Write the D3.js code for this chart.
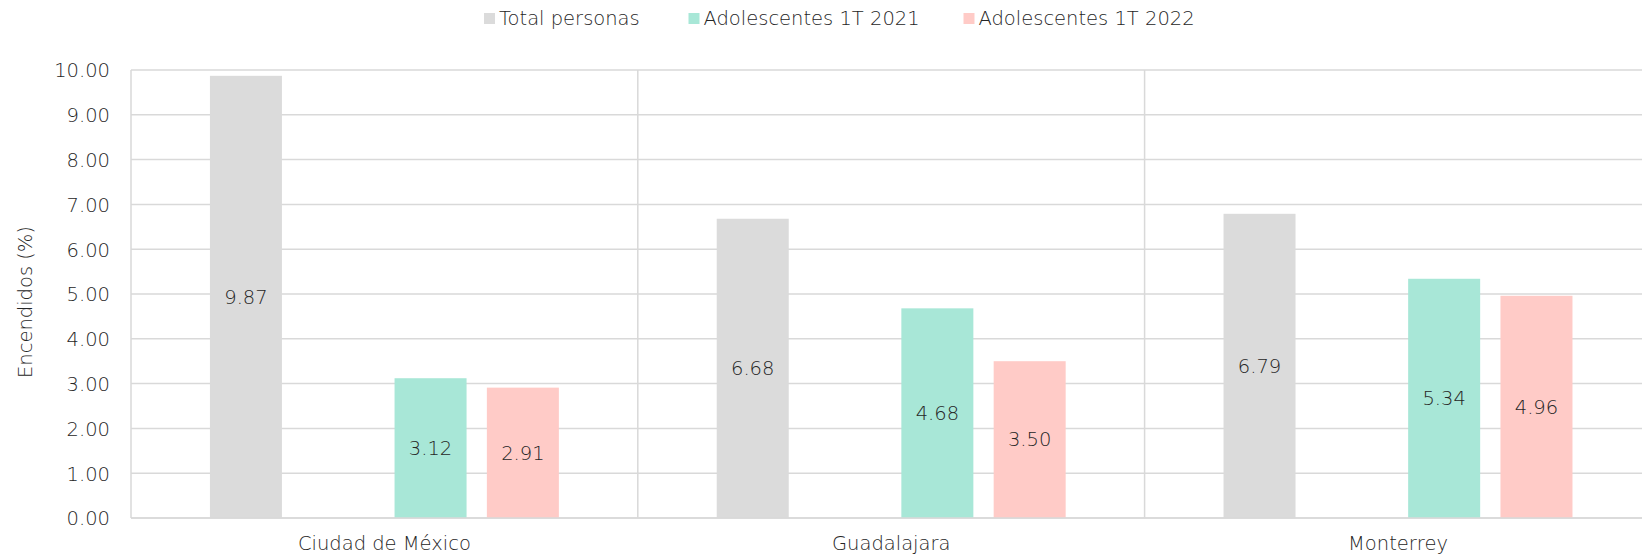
<!DOCTYPE html>
<html>
<head>
<meta charset="utf-8">
<script src="https://cdn.jsdelivr.net/npm/d3@7"></script>
<style>
  html, body { margin: 0; padding: 0; background: #ffffff; }
  svg { display: block; font-family: "DejaVu Sans", sans-serif; font-weight: 300; }
</style>
</head>
<body>
<svg id="chart" width="1642" height="556"></svg>
<script>
// Categories and series values (percent of TV sets on)
const categories = ["Ciudad de México", "Guadalajara", "Monterrey"];
const seriesNames = ["Total personas", "Adolescentes 1T 2021", "Adolescentes 1T 2022"];
const totalPersonas = [9.87, 6.68, 6.79];
const adolescentes2021 = [3.12, 4.68, 5.34];
const adolescentes2022 = [2.91, 3.50, 4.96];
const yTicks = [0, 1, 2, 3, 4, 5, 6, 7, 8, 9, 10];
const yTitle = "Encendidos (%)";

// Each category holds four bar slots; the second one stays empty.
const seriesSlots = [0, 2, 3];
const colors = ["#DBDBDB", "#A8E7D7", "#FFCBC7"];
const seriesValues = [totalPersonas, adolescentes2021, adolescentes2022];

const svg = d3.select("#chart");
const margin = { left: 131, top: 70, bottom: 518, right: 1651.4 };
const textColor = "#262626";
const gridColor = "#D9D9D9";
const fontSize = 19.5;

const x0 = d3.scaleBand().domain(categories).range([margin.left, margin.right]).paddingInner(0).paddingOuter(0);
const x1 = d3.scaleBand().domain([0, 1, 2, 3]).range([0, x0.bandwidth()]).paddingInner(0.22).paddingOuter(0.855);
const y = d3.scaleLinear().domain([0, 10]).range([margin.bottom, margin.top]);

// Horizontal gridlines and y tick labels
const yAxis = d3.axisLeft(y).tickValues(yTicks).tickFormat(d3.format(".2f")).tickSize(0).tickPadding(21);
const gy = svg.append("g").attr("transform", `translate(${margin.left},0)`).call(yAxis);
gy.select(".domain").remove();
gy.selectAll("text").attr("fill", textColor).attr("font-size", fontSize)
  .attr("font-family", "DejaVu Sans, sans-serif").attr("dy", "0.35em");

svg.append("g").selectAll("line").data(yTicks).join("line")
  .attr("x1", margin.left).attr("x2", margin.right)
  .attr("y1", d => y(d)).attr("y2", d => y(d))
  .attr("stroke", gridColor).attr("stroke-width", 1.5);

// Vertical lines between categories (plus the plot's left edge)
svg.append("g").selectAll("line").data(categories).join("line")
  .attr("x1", d => x0(d)).attr("x2", d => x0(d))
  .attr("y1", y(10)).attr("y2", y(0))
  .attr("stroke", gridColor).attr("stroke-width", 1.5);

// Bars
const groups = svg.append("g").selectAll("g").data(categories).join("g")
  .attr("transform", d => `translate(${x0(d)},0)`);

seriesValues.forEach((vals, si) => {
  groups.append("rect")
    .attr("x", x1(seriesSlots[si]))
    .attr("width", x1.bandwidth())
    .attr("y", (d, i) => y(vals[i]))
    .attr("height", (d, i) => y(0) - y(vals[i]))
    .attr("fill", colors[si]);
});

// Value labels centred in each bar
seriesValues.forEach((vals, si) => {
  groups.append("text")
    .attr("x", x1(seriesSlots[si]) + x1.bandwidth() / 2)
    .attr("y", (d, i) => (y(vals[i]) + y(0)) / 2)
    .attr("dy", "0.35em")
    .attr("text-anchor", "middle")
    .attr("font-size", fontSize)
    .attr("fill", textColor)
    .text((d, i) => vals[i].toFixed(2));
});

// Zero line drawn over the bars' bottoms
svg.append("line")
  .attr("x1", margin.left).attr("x2", margin.right)
  .attr("y1", y(0)).attr("y2", y(0))
  .attr("stroke", gridColor).attr("stroke-width", 1.5);

// Category labels
svg.append("g").selectAll("text").data(categories).join("text")
  .attr("x", d => x0(d) + x0.bandwidth() / 2)
  .attr("y", 550)
  .attr("text-anchor", "middle")
  .attr("font-size", fontSize)
  .attr("fill", textColor)
  .text(d => d);

// Y axis title
svg.append("text")
  .attr("transform", `translate(32,302) rotate(-90)`)
  .attr("text-anchor", "middle")
  .attr("font-size", fontSize)
  .attr("fill", textColor)
  .text(yTitle);

// Legend
const legendX = [484, 688.5, 963.5];
const legend = svg.append("g").selectAll("g").data(seriesNames).join("g")
  .attr("transform", (d, i) => `translate(${legendX[i]},13)`);
legend.append("rect").attr("width", 11).attr("height", 11).attr("fill", (d, i) => colors[i]);
legend.append("text")
  .attr("x", 15).attr("y", 5.5).attr("dy", "0.35em")
  .attr("font-size", fontSize).attr("fill", textColor)
  .text(d => d);
</script>
</body>
</html>
